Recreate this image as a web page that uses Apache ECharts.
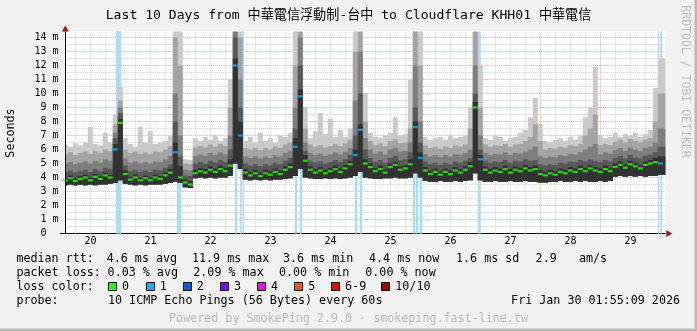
<!DOCTYPE html>
<html><head><meta charset="utf-8">
<script src="https://cdn.jsdelivr.net/npm/echarts@6/dist/echarts.min.js"></script>
<style>html,body{margin:0;padding:0;background:#f2f2f2}#c{width:697px;height:331px}</style>
</head><body><div id="c"></div>
<script>
// ---------------- data ----------------
const titleText = 'Last 10 Days from 中華電信浮動制-台中 to Cloudflare KHH01 中華電信';
const dayLabels = ['20','21','22','23','24','25','26','27','28','29'];
// hours since 2026-01-20 00:00 ; graph covers Jan 20 01:55 .. Jan 30 01:55
const startHour = 1.917;
const endHour = 241.917;
const stepHours = 2;     // one column of values every 2 hours
const yMax = 14.43;      // ms

// median RTT (ms)
const median = [
 3.80,3.95,3.75,3.90,4.00,3.80,4.05,3.90,4.15,4.00,
 6.00,7.90,4.25,
 3.85,4.00,3.80,3.95,3.80,4.00,3.90,4.15,4.35,
 5.80,4.00,3.65,3.50,
 4.30,4.45,4.35,4.55,4.40,4.60,4.45,4.85,
 12.00,7.00,
 4.35,4.15,4.30,4.10,4.30,4.20,4.40,4.25,4.55,4.75,
 6.20,9.80,5.20,
 4.55,4.35,4.50,4.30,4.45,4.60,4.40,4.65,4.95,
 5.60,7.40,5.00,4.75,4.45,4.60,4.35,4.75,4.90,4.55,4.65,4.95,
 7.60,5.40,4.50,4.25,4.40,4.20,4.40,4.25,4.50,4.35,4.55,4.80,
 9.00,5.30,
 4.55,4.35,4.50,4.40,4.60,4.35,4.55,4.45,4.65,4.50,4.60,4.25,4.15,4.30,4.20,4.40,4.30,4.50,4.40,4.60,4.45,4.65,4.50,4.40,4.60,4.45,
 4.75,4.90,4.70,4.95,4.80,4.65,4.90,5.00,5.10,5.00
];
// fastest ping (bottom of smoke)
const pingLo = [
 3.45,3.50,3.45,3.50,3.45,3.50,3.45,3.50,3.50,3.55,
 3.60,3.80,3.55,
 3.50,3.45,3.50,3.45,3.50,3.50,3.50,3.55,3.60,
 3.70,3.60,3.30,3.25,
 3.95,4.00,3.95,4.00,3.95,4.00,4.00,4.10,
 5.00,4.60,
 3.85,3.80,3.85,3.80,3.85,3.80,3.85,3.85,3.90,3.95,
 4.10,4.60,4.00,
 3.95,3.90,3.90,3.95,3.90,3.95,3.90,3.95,4.00,
 4.10,4.40,4.00,3.95,3.90,3.90,3.95,3.95,4.00,3.95,3.95,4.00,
 4.30,4.00,3.75,3.70,3.70,3.75,3.70,3.70,3.75,3.70,3.75,3.80,
 4.30,3.80,
 3.70,3.70,3.75,3.70,3.70,3.75,3.70,3.70,3.75,3.70,3.70,3.65,3.65,3.70,3.70,3.75,3.70,3.70,3.75,3.70,3.75,3.70,3.70,3.75,3.70,3.75,
 4.05,4.10,4.05,4.10,4.05,4.10,4.05,4.10,4.10,4.20
];
// 6th ping (top of darkest smoke)
const ping6 = [
 4.00,4.15,3.95,4.10,4.20,4.00,4.25,4.10,4.35,4.20,
 6.40,8.20,4.50,
 4.05,4.20,4.00,4.15,4.00,4.20,4.10,4.35,4.60,
 6.50,4.80,3.85,3.75,
 4.55,4.70,4.60,4.80,4.65,4.85,4.70,5.30,
 12.50,8.00,
 4.60,4.40,4.55,4.35,4.55,4.45,4.65,4.50,4.80,5.00,
 6.80,10.30,5.60,
 4.80,4.60,4.75,4.55,4.70,4.85,4.65,4.90,5.20,
 6.00,7.80,5.30,5.00,4.70,4.85,4.60,5.00,5.15,4.80,4.90,5.30,
 8.00,5.80,4.75,4.50,4.65,4.45,4.65,4.50,4.75,4.60,4.80,5.10,
 9.40,5.60,
 4.80,4.60,4.75,4.65,4.85,4.60,4.80,4.70,4.90,4.75,4.85,4.50,4.40,4.55,4.45,4.65,4.55,4.75,4.65,4.85,4.70,4.90,4.75,4.65,4.85,4.70,
 5.00,5.15,4.95,5.20,5.05,4.90,5.15,5.25,5.40,5.50
];
// 7th ping
const ping7 = [
 4.40,4.50,4.35,4.45,4.55,4.40,4.60,4.45,4.70,4.60,
 6.80,8.60,4.85,
 4.45,4.55,4.40,4.50,4.40,4.55,4.50,4.70,4.95,
 8.00,5.50,4.15,4.10,
 5.00,5.10,5.00,5.20,5.05,5.25,5.10,6.00,
 14.00,9.00,
 5.00,4.85,4.95,4.80,4.95,4.85,5.05,4.95,5.20,5.40,
 7.50,12.00,5.90,
 5.20,5.05,5.15,5.00,5.10,5.25,5.10,5.30,5.60,
 7.00,10.00,6.00,5.40,5.10,5.25,5.05,5.40,5.55,5.25,5.30,5.80,
 9.00,6.50,5.15,4.95,5.05,4.90,5.05,4.95,5.15,5.05,5.20,5.40,
 10.00,6.00,
 5.20,5.05,5.15,5.10,5.25,5.05,5.20,5.15,5.30,5.20,5.25,4.95,4.85,4.95,4.90,5.05,5.00,5.15,5.10,5.25,5.15,5.30,5.20,5.10,5.25,5.15,
 5.40,5.55,5.35,5.60,5.45,5.35,5.55,5.65,5.80,6.20
];
// 8th ping
const ping8 = [
 5.00,5.10,4.95,5.05,5.15,5.00,5.20,5.05,5.30,5.20,
 7.20,9.00,5.35,
 5.05,5.15,5.00,5.10,5.00,5.15,5.10,5.30,5.55,
 10.00,7.00,4.55,4.50,
 5.55,5.65,5.55,5.75,5.60,5.80,5.65,7.00,
 15.00,11.00,
 5.50,5.40,5.50,5.35,5.50,5.40,5.60,5.50,5.75,5.90,
 9.00,14.00,6.50,
 5.75,5.60,5.70,5.55,5.65,5.80,5.65,5.85,6.10,
 9.50,13.00,6.80,6.00,5.70,5.85,5.65,6.00,6.15,5.85,5.90,6.50,
 12.00,8.00,5.70,5.50,5.60,5.45,5.60,5.50,5.70,5.60,5.75,6.00,
 12.00,7.00,
 5.75,5.60,5.70,5.65,5.80,5.60,5.75,5.70,5.85,6.00,6.20,5.50,5.40,5.50,5.45,5.60,5.55,5.70,5.65,5.80,6.00,6.20,6.40,5.65,5.80,5.70,
 5.95,6.10,5.90,6.15,6.00,5.90,6.10,6.20,6.50,7.50
];
// 9th ping
const ping9 = [
 5.65,5.80,5.60,5.75,5.85,5.70,5.90,5.75,6.00,5.90,
 7.80,9.50,6.00,
 5.75,5.85,5.70,5.80,5.70,5.85,5.80,6.00,6.25,
 14.00,12.00,5.00,4.95,
 6.15,6.25,6.15,6.35,6.20,6.40,6.25,9.00,
 15.00,14.00,
 6.10,6.00,6.10,5.95,6.10,6.00,6.20,6.10,6.35,6.50,
 12.00,15.00,7.50,
 6.35,6.20,6.30,6.15,6.25,6.40,6.25,6.45,6.70,
 13.00,15.00,8.00,6.60,6.30,6.45,6.25,6.60,6.75,6.45,6.50,7.50,
 15.00,12.00,6.30,6.10,6.20,6.05,6.20,6.10,6.30,6.20,6.35,7.50,
 15.00,9.00,
 6.35,6.20,6.30,6.25,6.40,6.20,6.35,6.40,6.60,6.90,7.80,6.60,6.00,6.10,6.05,6.20,6.15,6.30,6.25,6.40,7.00,7.50,8.50,6.30,6.40,6.30,
 6.55,6.70,6.50,6.75,6.60,6.50,6.70,6.80,8.00,10.00
];
// slowest ping (top of smoke)
const pingHi = [
 6.35,6.20,6.45,6.30,6.50,7.60,6.40,6.30,7.20,6.50,
 8.50,10.50,6.80,
 6.40,6.20,7.60,6.50,7.30,6.40,6.50,6.60,7.00,
 15.00,15.00,5.30,5.25,
 6.80,6.60,6.90,6.70,7.00,6.60,6.80,11.00,
 15.00,15.00,
 6.60,6.90,6.50,7.20,6.60,6.80,6.50,7.00,6.90,7.20,
 15.00,15.00,9.00,
 6.80,7.30,8.60,7.10,8.20,6.90,7.40,6.90,7.50,
 15.00,15.00,10.00,7.20,6.90,6.80,7.00,7.20,8.30,7.00,7.10,11.00,
 15.00,15.00,6.90,6.70,6.80,6.90,6.70,7.00,6.80,6.90,7.00,9.00,
 15.00,12.00,
 6.80,6.70,7.00,6.90,6.60,6.80,6.90,7.20,7.40,8.30,9.70,7.80,6.60,6.50,6.70,6.80,6.60,6.90,6.70,7.00,8.30,9.00,11.90,7.00,6.80,6.90,
 7.20,6.90,7.10,7.00,7.20,6.90,7.10,7.40,10.40,12.50
];
// columns whose median had 1/10 loss (blue)
const lossColumns = [10,22,34,35,46,47,58,59,70,71,83,119];
// loss bars (hours since Jan 20 00:00), 1/10 lost
const lossHours = [22.4,22.8,23.2,23.6,24.0, 46.8,47.2,47.6,48.0, 70.0,70.4,72.4,73.2,
  94.0,94.4,96.0,96.4, 118.0,118.4,120.0,120.4, 141.2,141.6,142.4,142.8,144.0,144.4,
  167.2,167.6, 239.2,240.4];

const statsMedian = [['median rtt:',16.4],['4.6 ms avg',106.7],['11.9 ms max',192],['3.6 ms min',283],['4.4 ms now',369],['1.6 ms sd',456],['2.9',535.6],['am/s',579]];
const statsLoss = [['packet loss:',16.4],['0.03 % avg',107.6],['2.09 % max',193.3],['0.00 % min',279],['0.00 % now',365.3]];
const lossLegend = [['0','#26ff00'],['1','#00b8ff'],['2','#0059ff'],['3','#7e00ff'],['4','#ff00ff'],['5','#ff5500'],['6-9','#ff0000'],['10/10','#a10000']];
const probeText = '10 ICMP Echo Pings (56 Bytes) every 60s';
const dateText = 'Fri Jan 30 01:55:09 2026';
const poweredText = 'Powered by SmokePing 2.9.0 · smokeping.fast-line.tw';

// ---------------- drawing ----------------
const FONT = "'DejaVu Sans Mono', 'Noto Sans CJK TC', monospace";
const LOSS_GREEN = '#26ff00', LOSS_BLUE = '#00b8ff';
const times = median.map((_, i) => startHour + stepHours * i);
const nCol = times.length;
const leftEdge = i => i === 0 ? startHour : (times[i-1] + times[i]) / 2;
const rightEdge = i => i === nCol - 1 ? endHour : (times[i] + times[i+1]) / 2;

const series = [];
// white canvas
series.push({type:'line', data:[], z:0, silent:true, animation:false,
  markArea:{z:0, silent:true, itemStyle:{color:'#ffffff'}, data:[[{coord:[startHour,0]},{coord:[endHour,yMax]}]]}});
// grid lines
const minorV=[], majorV=[], minorH=[], majorH=[];
for (let h = 6; h <= 240; h += 6) (h % 24 === 0 ? majorV : minorV).push({xAxis:h});
for (let k = 1; k <= 28; k++) { const y = k*0.5; (k % 2 === 0 ? majorH : minorH).push([{coord:[startHour,y]},{coord:[endHour,y]}]); }
series.push({type:'line', data:[], z:1, silent:true, animation:false,
  markLine:{z:1, silent:true, symbol:['none','none'], label:{show:false}, animation:false,
    lineStyle:{color:'#cfcfcf', type:[1,1], width:1}, data: minorV.concat(minorH)}});
series.push({type:'line', data:[], z:1, silent:true, animation:false,
  markLine:{z:1, silent:true, symbol:['none','none'], label:{show:false}, animation:false,
    lineStyle:{color:'#e3a9a9', type:[1,1], width:1}, data: majorV.concat(majorH)}});
// loss bars (behind the smoke)
series.push({type:'line', data:[], z:2, silent:true, animation:false,
  markLine:{z:2, silent:true, symbol:['none','none'], label:{show:false}, animation:false,
    lineStyle:{color:'#a6def6', type:'solid', width:1.3}, data: lossHours.map(h => ({xAxis:h}))}});
// smoke bands: outer (lightest) first, darker inner bands on top
const bands = [[pingHi,'#cacaca'],[ping9,'#a4a4a4'],[ping8,'#7e7e7e'],[ping7,'#585858'],[ping6,'#323232']];
series.push({type:'custom', z:20, silent:true, animation:false, clip:true,
  data: bands.map(() => [startHour, 0]),
  renderItem: function(params, api) {
    const b = bands[params.dataIndex];
    const top = b[0];
    const P = [];
    for (let i = 0; i < nCol; i++) {
      const y = Math.min(top[i], yMax);
      P.push(api.coord([leftEdge(i), y])); P.push(api.coord([rightEdge(i), y]));
    }
    for (let i = nCol - 1; i >= 0; i--) {
      const y = pingLo[i];
      P.push(api.coord([rightEdge(i), y])); P.push(api.coord([leftEdge(i), y]));
    }
    return {type:'polygon', shape:{points:P}, style:{fill:b[1]}};
  }});
// median
series.push({type:'scatter', symbol:'rect', symbolSize:[5,2.2], z:30, silent:true, animation:false,
  data: median.map((v,i) => ({value:[times[i], v], itemStyle:{color: lossColumns.includes(i) ? LOSS_BLUE : LOSS_GREEN}}))});
// axis line + arrows
series.push({type:'line', data:[], z:40, silent:true, animation:false,
  markLine:{z:40, silent:true, symbol:['none','none'], label:{show:false}, animation:false,
    lineStyle:{color:'#000', type:'solid', width:1}, data:[[{coord:[startHour,0]},{coord:[startHour,yMax]}]]},
  markPoint:{z:40, silent:true, label:{show:false}, animation:false, data:[
    {coord:[startHour,yMax], symbol:'triangle', symbolSize:[7,6], symbolOffset:[0,-3], itemStyle:{color:'#a01818'}},
    {coord:[endHour,0], symbol:'path://M0,0 L10,5 L0,10 Z', symbolSize:[6,7], symbolOffset:[4,0], itemStyle:{color:'#a01818'}}
  ]}});

const gridLeft = 60.5;
const gridRight = 697 - (gridLeft + 2.5 * endHour);
const gridTop = 233.5 - 14 * yMax;

const graphics = [];
function txt(text, x, y, o) { o = o || {};
  graphics.push({type:'text', x:x, y:y, rotation:o.rot||0, z:100, silent:true,
    style:{text:text, fill:o.color||'#000', fontSize:o.size||11.7, fontFamily:FONT, align:o.align||'left', verticalAlign:'middle'}}); }
txt(titleText, 348.5, 15.5, {size:13.1, align:'center'});
txt('Seconds', 11, 133, {rot:Math.PI/2, align:'center'});
txt('RRDTOOL / TOBI OETIKER', 685, 81.5, {rot:-Math.PI/2, align:'center', color:'#bdbdbd', size:11.5});
statsMedian.forEach(([t,x]) => txt(t, x, 259.3));
statsLoss.forEach(([t,x]) => txt(t, x, 273.3));
txt('loss color:', 16.4, 286.7);
const boxX = [108,145.8,182.7,220,256.9,294.2,331.1,381.3];
lossLegend.forEach(([t,c],i) => {
  graphics.push({type:'rect', z:100, silent:true, shape:{x:Math.round(boxX[i])+0.5, y:282.5, width:8, height:8}, style:{fill:c, stroke:'#000', lineWidth:1}});
  txt(t, boxX[i]+14, 286.7);
});
txt('probe:', 16.4, 301.3);
txt(probeText, 108, 301.3);
txt(dateText, 680, 301.3, {align:'right'});
txt(poweredText, 348.5, 318.5, {align:'center', color:'#bbbbbb'});
// frame
graphics.push({type:'rect', z:100, silent:true, shape:{x:694.5, y:0, width:2.5, height:331}, style:{fill:'#b8b8b8'}});
graphics.push({type:'rect', z:100, silent:true, shape:{x:0, y:328.5, width:697, height:2.5}, style:{fill:'#b8b8b8'}});

const chart = echarts.init(document.getElementById('c'), null, {renderer:'canvas', devicePixelRatio:1});
chart.setOption({
  animation:false,
  backgroundColor:'#f2f2f2',
  grid:{left:gridLeft, right:gridRight, top:gridTop, bottom:97.5, containLabel:false},
  xAxis:{type:'value', min:0, max:endHour, interval:12,
    axisLine:{show:true, lineStyle:{color:'#000', width:1}}, axisTick:{show:false}, splitLine:{show:false},
    axisLabel:{show:true, margin:3, color:'#000', fontSize:10, fontFamily:FONT, hideOverlap:false,
      formatter:function(v){ const r = Math.round(v); if (Math.abs(v-r) > 1e-6 || r % 24 !== 12) return ''; return dayLabels[(r-12)/24] || ''; }}},
  yAxis:{type:'value', min:0, max:yMax, interval:0.5,
    axisLine:{show:false}, axisTick:{show:false}, splitLine:{show:false},
    axisLabel:{show:true, margin:2, color:'#000', fontSize:10, fontFamily:FONT, hideOverlap:false,
      formatter:function(v){ const r = Math.round(v); if (Math.abs(v-r) > 1e-6) return ''; return r === 0 ? '0  ' : r + ' m'; }}},
  series: series,
  graphic: graphics
});
</script></body></html>
